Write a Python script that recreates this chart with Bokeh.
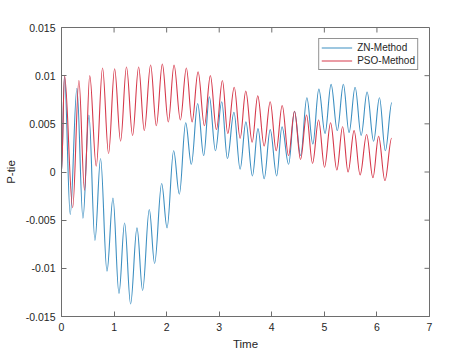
import math
from bokeh.plotting import figure
from bokeh.models import FixedTicker, CustomJSTickFormatter, ColumnDataSource
from bokeh.embed import file_html
from bokeh.resources import INLINE

# ---- data (extrema of each oscillation) ----
zn_time = [0.000, 0.057, 0.166, 0.293, 0.408, 0.522, 0.636, 0.743, 0.865, 0.979,
           1.093, 1.200, 1.314, 1.436, 1.543, 1.670, 1.771, 1.905, 2.008, 2.133,
           2.242, 2.362, 2.470, 2.590, 2.705, 2.813, 2.928, 3.048, 3.156, 3.280,
           3.398, 3.507, 3.632, 3.737, 3.855, 3.970, 4.093, 4.194, 4.320, 4.432,
           4.549, 4.667, 4.781, 4.895, 5.013, 5.128, 5.246, 5.362, 5.470, 5.585,
           5.700, 5.813, 5.937, 6.048, 6.160, 6.284]
zn_value = [0.0000, 0.0099, -0.0044, 0.0087, -0.0048, 0.0059, -0.0071, 0.0014, -0.0103, -0.0027,
            -0.0126, -0.0053, -0.0137, -0.0058, -0.0123, -0.0039, -0.0095, -0.0012, -0.0058, 0.0022,
            -0.0023, 0.0051, 0.0008, 0.0071, 0.0017, 0.0078, 0.0022, 0.0073, 0.0014, 0.0062,
            0.0003, 0.0052, -0.0004, 0.0045, -0.0007, 0.0044, -0.0004, 0.0047, 0.0008, 0.0063,
            0.0017, 0.0077, 0.0029, 0.0086, 0.0040, 0.0091, 0.0043, 0.0091, 0.0041, 0.0088,
            0.0038, 0.0083, 0.0032, 0.0077, 0.0022, 0.0072]

pso_time = [0.000, 0.057, 0.213, 0.331, 0.438, 0.537, 0.661, 0.781, 0.895, 1.010,
            1.124, 1.236, 1.352, 1.467, 1.575, 1.695, 1.804, 1.918, 2.032, 2.141,
            2.261, 2.375, 2.484, 2.598, 2.718, 2.832, 2.947, 3.061, 3.162, 3.286,
            3.398, 3.505, 3.627, 3.733, 3.855, 3.970, 4.084, 4.198, 4.318, 4.432,
            4.547, 4.661, 4.775, 4.890, 5.004, 5.118, 5.238, 5.347, 5.451, 5.566,
            5.680, 5.804, 5.924, 6.032, 6.152, 6.280]
pso_value = [0.0000, 0.0100, -0.0037, 0.0095, -0.0019, 0.0100, 0.0006, 0.0108, 0.0019, 0.0107,
             0.0032, 0.0109, 0.0038, 0.0109, 0.0043, 0.0111, 0.0048, 0.0112, 0.0052, 0.0111,
             0.0054, 0.0108, 0.0052, 0.0104, 0.0048, 0.0100, 0.0044, 0.0095, 0.0040, 0.0088,
             0.0035, 0.0084, 0.0031, 0.0079, 0.0027, 0.0073, 0.0022, 0.0069, 0.0017, 0.0063,
             0.0013, 0.0059, 0.0009, 0.0054, 0.0005, 0.0051, 0.0002, 0.0047, 0.0000, 0.0043,
             -0.0003, 0.0039, -0.0006, 0.0037, -0.0009, 0.0035]

x_ticks = [0, 1, 2, 3, 4, 5, 6, 7]
y_ticks = [-0.015, -0.01, -0.005, 0, 0.005, 0.01, 0.015]

AX = "#6e6e6e"
TXT = "#262626"
FONT = "Liberation Sans"
BLUE = "#3d8fc1"
RED = "#d63a4c"

X0, X1 = 0, 7
Y0, Y1 = -0.015, 0.015
FW, FH = 368, 289

p = figure(frame_width=FW, frame_height=FH,
           min_border_left=61, min_border_right=45, min_border_top=27, min_border_bottom=39,
           x_range=(X0, X1), y_range=(Y0, Y1),
           output_backend="svg", toolbar_location=None,
           background_fill_color="white", border_fill_color="white")

p.xgrid.visible = False
p.ygrid.visible = False
p.outline_line_color = AX
p.outline_line_width = 1

yfmt = CustomJSTickFormatter(code="var v = Math.round(tick*1000)/1000; if (v === 0) return '0'; return String(v);")

for ax in (p.xaxis[0], p.yaxis[0]):
    ax.axis_line_color = AX
    ax.major_tick_line_color = AX
    ax.major_tick_in = 5
    ax.major_tick_out = 0
    ax.minor_tick_line_color = None
    ax.major_label_text_color = TXT
    ax.major_label_text_font = FONT
    ax.major_label_text_font_size = "10.5px"
    ax.axis_label_text_color = TXT
    ax.axis_label_text_font = FONT
    ax.axis_label_text_font_size = "11.5px"
    ax.axis_label_text_font_style = "normal"
    ax.major_label_standoff = 6

p.xaxis.ticker = FixedTicker(ticks=x_ticks)
p.yaxis.ticker = FixedTicker(ticks=y_ticks)
p.yaxis.formatter = yfmt
p.xaxis.axis_label = "Time"
p.yaxis.axis_label = "P-tie"
p.xaxis.axis_label_standoff = 4
p.yaxis.axis_label_standoff = 6

# inward tick marks on the top and right edges of the box (MATLAB "box on")
tick_dy = 5 * (Y1 - Y0) / FH
tick_dx = 5 * (X1 - X0) / FW
p.segment(x0=x_ticks, y0=[Y1] * len(x_ticks), x1=x_ticks, y1=[Y1 - tick_dy] * len(x_ticks),
          line_color=AX, line_width=1)
p.segment(x0=[X1] * len(y_ticks), y0=y_ticks, x1=[X1 - tick_dx] * len(y_ticks), y1=y_ticks,
          line_color=AX, line_width=1)

# smooth curves through the read extrema (horizontal tangents at each extremum)
K = 0.364
def bezier_source(t, v):
    d = dict(x0=[], y0=[], x1=[], y1=[], cx0=[], cy0=[], cx1=[], cy1=[])
    for i in range(len(t) - 1):
        dt = t[i + 1] - t[i]
        d["x0"].append(t[i]); d["y0"].append(v[i])
        d["x1"].append(t[i + 1]); d["y1"].append(v[i + 1])
        d["cx0"].append(t[i] + K * dt); d["cy0"].append(v[i])
        d["cx1"].append(t[i + 1] - K * dt); d["cy1"].append(v[i + 1])
    return ColumnDataSource(d)

p.bezier(x0="x0", y0="y0", x1="x1", y1="y1", cx0="cx0", cy0="cy0", cx1="cx1", cy1="cy1",
         source=bezier_source(zn_time, zn_value), line_color=BLUE, line_width=1.1,
         legend_label="ZN-Method")
p.bezier(x0="x0", y0="y0", x1="x1", y1="y1", cx0="cx0", cy0="cy0", cx1="cx1", cy1="cy1",
         source=bezier_source(pso_time, pso_value), line_color=RED, line_width=1.1,
         legend_label="PSO-Method")

lg = p.legend[0]
lg.location = "top_right"
lg.margin = 11
lg.padding = 2
lg.spacing = 0
lg.glyph_width = 31
lg.glyph_height = 13
lg.label_height = 13
lg.label_standoff = 5
lg.label_text_font = FONT
lg.label_text_font_size = "10px"
lg.label_text_color = TXT
lg.border_line_color = TXT
lg.border_line_width = 1
lg.background_fill_color = "white"
lg.background_fill_alpha = 1

open("out.html", "w").write(file_html(p, INLINE))
